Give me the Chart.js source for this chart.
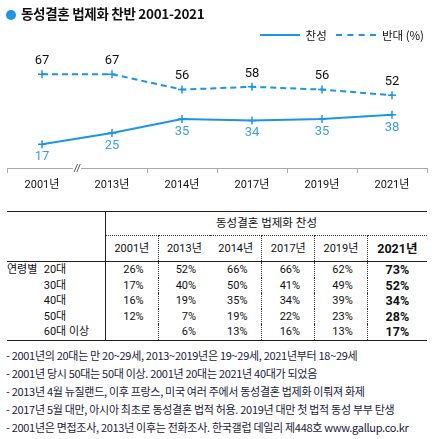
<!DOCTYPE html>
<html><head><meta charset="utf-8">
<script src="https://cdn.jsdelivr.net/npm/chart.js@4"></script>
<style>
body{margin:0;width:440px;height:439px;background:#fff;font-family:"Noto Sans CJK KR","Noto Sans",sans-serif;color:#111;position:relative;overflow:hidden}
#title{position:absolute;left:6px;top:3px;font-size:13.5px;font-weight:bold;letter-spacing:-0.3px}
#title span{display:inline-block;width:10px;height:10px;border-radius:50%;background:#1a95e8;margin-right:5px;vertical-align:-1px}
#legend{position:absolute;right:16px;top:27px;font-size:11.5px;display:flex;align-items:center;gap:4px}
.lg{display:inline-block;width:40px;height:0;border-top:2px solid #1a95e8;position:relative;margin-right:2px}
.lg.d{border-top-style:dashed}
#cw{position:absolute;left:0;top:0;width:440px;height:200px}
table{position:absolute;left:7px;top:211px;width:420px;border-collapse:collapse;font-size:11px;font-family:Roboto,"Noto Sans CJK KR",sans-serif}
th,td{padding:0;height:15.5px;line-height:15px}
thead tr.h1 td{height:23px;text-align:center;font-size:11.5px}
thead tr.h2 td{height:25px;text-align:center;border-top:1px dotted #333;border-bottom:1px solid #222;font-size:11px}
table{border-top:1.5px solid #222;border-bottom:1.5px solid #222}
td.v{text-align:right;padding-right:14px}
td.b{font-weight:bold;font-size:12.5px;text-align:center}
.dl{border-left:1px dotted #333}
.sl{border-left:1px solid #222}
#notes{position:absolute;left:6px;top:346px;font-size:11px;line-height:18px;color:#1a1a3a;letter-spacing:-0.3px;white-space:nowrap}
</style></head><body>
<div id="cw"><canvas id="c"></canvas></div>
<div id="title"><span></span>동성결혼 법제화 찬반 2001-2021</div>
<div id="legend"><span class="lg"></span>찬성 &nbsp;<span class="lg d"></span>반대 (%)</div>
<table id="tb"></table>
<div id="notes">
- 2001년의 20대는 만 20~29세, 2013~2019년은 19~29세, 2021년부터 18~29세<br>
- 2001년 당시 50대는 50대 이상. 2001년 20대는 2021년 40대가 되었음<br>
- 2013년 4월 뉴질랜드, 이후 프랑스, 미국 여러 주에서 동성결혼 법제화 이뤄져 화제<br>
- 2017년 5월 대만, 아시아 최초로 동성결혼 법적 허용. 2019년 대만 첫 법적 동성 부부 탄생<br>
- 2001년은 면접조사, 2013년 이후는 전화조사. 한국갤럽 데일리 제448호 www.gallup.co.kr
</div>
<script>
const years=['2001년','2013년','2014년','2017년','2019년','2021년'];
const favor=[17,25,35,34,35,38];
const oppose=[67,67,56,58,56,52];
const ageGroups=['20대','30대','40대','50대','60대 이상'];
const age20=[26,52,66,66,62,73];
const age30=[17,40,50,41,49,52];
const age40=[16,19,35,34,39,34];
const age50=[12,7,19,22,23,28];
const age60=[null,6,13,16,13,17];
const ageRows=[age20,age30,age40,age50,age60];

// table
let h='<thead><tr class="h1"><td class="sl" style="border-left:none"></td><td colspan="6" class="sl">동성결혼 법제화 찬성</td></tr><tr class="h2"><td style="border-top:none"></td>';
const cls=['sl','dl','','dl','dl','dl'];
years.forEach((y,i)=>{h+=`<td class="${cls[i]}" style="${i==5?'font-weight:bold;font-size:12.5px':''}">${y}</td>`;});
h+='</tr></thead><tbody>';
ageRows.forEach((r,ri)=>{
  h+=`<tr><td style="width:98px"><span style="display:inline-block;width:34px">${ri==0?'연령별':''}</span> ${ageGroups[ri]}</td>`;
  r.forEach((v,i)=>{h+=`<td class="${cls[i]} ${i==5?'b':'v'}">${v==null?'':v+'%'}</td>`;});
  h+='</tr>';
});
h+='</tbody>';
document.getElementById('tb').innerHTML=h;

const blue='#1a95e8';
const labelPlugin={id:'lbl',afterDatasetsDraw(ch){
  const c=ch.ctx;c.save();c.textAlign='center';c.font='13px Roboto, sans-serif';
  ch.data.datasets.forEach((ds,di)=>{
    ch.getDatasetMeta(di).data.forEach((p,i)=>{
      if(di==0){c.fillStyle='#3aa0e8';c.textBaseline='top';c.fillText(ds.data[i],p.x,p.y+6);}
      else{c.fillStyle='#111';c.textBaseline='bottom';c.fillText(ds.data[i],p.x,p.y-7);}
    });
  });
  const x=ch.scales.x, y=(ch.chartArea.bottom);
  const bx=(x.getPixelForValue(0)+x.getPixelForValue(1))/2;
  c.fillStyle='#fff';c.fillRect(bx-4,y-1,8,3);
  c.fillStyle='#333';c.font='italic 10px sans-serif';c.textBaseline='middle';c.fillText('//',bx,y+1);
  c.restore();
}};
new Chart(document.getElementById('c'),{type:'line',
data:{labels:years,datasets:[
 {label:'찬성',data:favor,borderColor:blue,borderWidth:2,pointStyle:'cross',pointRadius:4,pointBorderColor:blue,pointBorderWidth:1.5,tension:0},
 {label:'반대',data:oppose,borderColor:blue,borderWidth:2,borderDash:[6,4],pointStyle:'cross',pointRadius:4,pointBorderColor:blue,pointBorderWidth:1.5,tension:0}
]},
options:{responsive:true,maintainAspectRatio:false,animation:false,
 layout:{padding:{left:7,right:13,top:28,bottom:0}},
 plugins:{legend:{display:false},tooltip:{enabled:false}},
 scales:{
  y:{display:false,min:0,max:100},
  x:{offset:true,border:{color:'#aaa',width:1},
     grid:{offset:true,drawOnChartArea:false,tickLength:5,color:(ctx)=>ctx.index==1?'rgba(0,0,0,0)':'#aaa'},
     ticks:{color:'#111',font:{size:11,family:'Roboto, "Noto Sans CJK KR"'},padding:6},
     afterFit(s){s.height=32;}}
 }},
plugins:[labelPlugin]});
</script>
</body></html>
